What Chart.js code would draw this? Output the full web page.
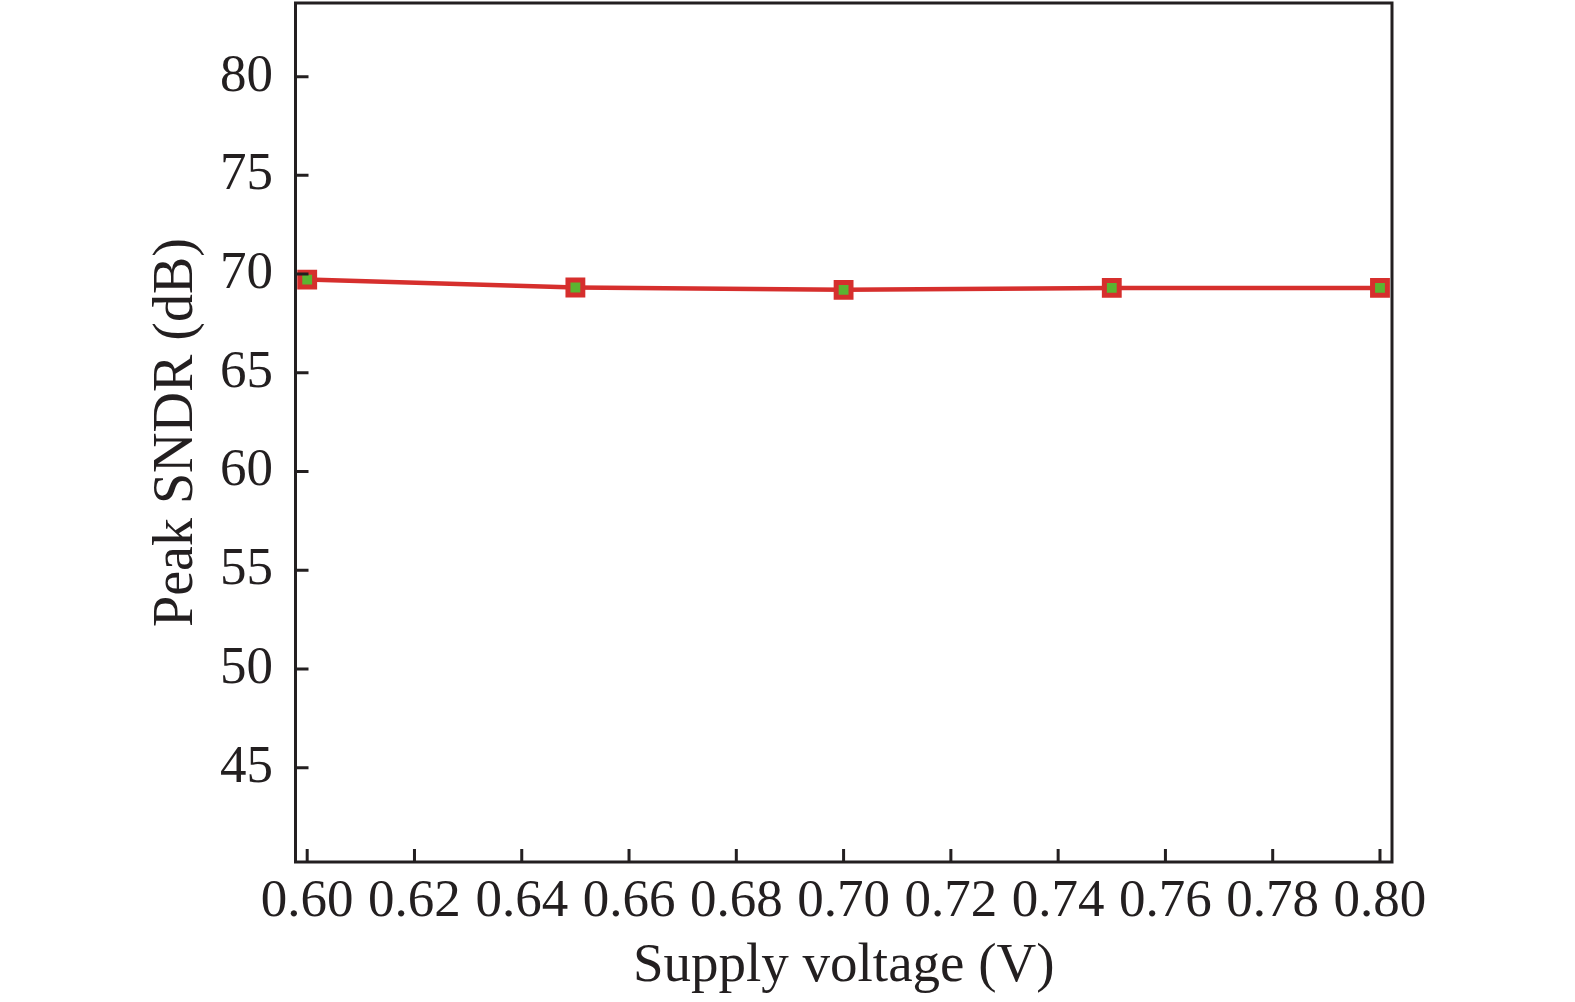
<!DOCTYPE html>
<html>
<head>
<meta charset="utf-8">
<script src="https://cdn.jsdelivr.net/npm/chart.js@4/dist/chart.umd.min.js"></script>
<style>
  html, body { margin: 0; padding: 0; background: #ffffff; }
  #wrap { width: 1575px; height: 1002px; }
</style>
</head>
<body>
<div id="wrap"><canvas id="c" width="1575" height="1002"></canvas></div>
<script>
const supplyVoltage = [0.60, 0.65, 0.70, 0.75, 0.80];
const peakSNDR = [69.72, 69.32, 69.20, 69.30, 69.30];
const xTickValues = [0.60, 0.62, 0.64, 0.66, 0.68, 0.70, 0.72, 0.74, 0.76, 0.78, 0.80];
const yTickValues = [45, 50, 55, 60, 65, 70, 75, 80];
const xTitle = 'Supply voltage (V)';
const yTitle = 'Peak SNDR (dB)';

const INK = '#231f20';
const FONT = '"Liberation Serif", "Times New Roman", serif';

const framePlugin = {
  id: 'frame',
  afterDatasetsDraw(chart) {
    const {ctx, chartArea: a, scales} = chart;
    ctx.save();
    ctx.strokeStyle = INK;
    ctx.lineWidth = 3;
    ctx.lineCap = 'butt';
    ctx.beginPath();
    ctx.rect(a.left, a.top, a.right - a.left, a.bottom - a.top);
    ctx.stroke();
    const len = 13;
    ctx.beginPath();
    xTickValues.forEach(v => {
      const px = scales.x.getPixelForValue(v);
      ctx.moveTo(px, a.bottom);
      ctx.lineTo(px, a.bottom - len);
    });
    yTickValues.forEach(v => {
      const py = scales.y.getPixelForValue(v);
      ctx.moveTo(a.left, py);
      ctx.lineTo(a.left + len, py);
    });
    ctx.stroke();
    ctx.restore();
  }
};

new Chart(document.getElementById('c'), {
  type: 'line',
  data: {
    datasets: [{
      data: supplyVoltage.map((v, i) => ({x: v, y: peakSNDR[i]})),
      borderColor: '#d62f2d',
      borderWidth: 4.5,
      backgroundColor: '#5bb531',
      pointStyle: 'rect',
      pointRadius: 10.5,
      pointBorderWidth: 5,
      pointBorderColor: '#d62f2d',
      pointBackgroundColor: '#5bb531',
      tension: 0,
      clip: false
    }]
  },
  options: {
    responsive: false,
    animation: false,
    devicePixelRatio: 1,
    layout: { autoPadding: false, padding: { left: 0, top: 3, right: 183, bottom: 0 } },
    plugins: { legend: { display: false }, tooltip: { enabled: false } },
    scales: {
      x: {
        type: 'linear',
        min: 0.59782,
        max: 0.80224,
        afterFit(s) { s.height = 140; s.paddingLeft = 0; s.paddingRight = 0; },
        afterBuildTicks(s) { s.ticks = xTickValues.map(v => ({value: v})); },
        grid: { display: false, drawTicks: false, tickLength: 0 },
        border: { display: false },
        ticks: {
          autoSkip: false,
          maxRotation: 0,
          padding: 8.5,
          color: INK,
          font: { family: FONT, size: 53, lineHeight: 1.2 },
          callback: v => Number(v).toFixed(2)
        },
        title: {
          display: true,
          text: xTitle,
          color: INK,
          font: { family: FONT, size: 55, lineHeight: 1 },
          padding: { top: 0, bottom: 7.5 }
        }
      },
      y: {
        type: 'linear',
        min: 40.22,
        max: 83.73,
        afterFit(s) { s.width = 295.5; s.paddingTop = 0; s.paddingBottom = 0; },
        afterBuildTicks(s) { s.ticks = yTickValues.map(v => ({value: v})); },
        grid: { display: false, drawTicks: false, tickLength: 0 },
        border: { display: false },
        ticks: {
          autoSkip: false,
          padding: 22.5,
          color: INK,
          font: { family: FONT, size: 53, lineHeight: 1.2 },
          callback: v => String(v)
        },
        title: {
          display: true,
          text: yTitle,
          color: INK,
          font: { family: FONT, size: 56, lineHeight: 1 },
          padding: { top: 149, bottom: 0 }
        }
      }
    }
  },
  plugins: [framePlugin]
});
</script>
</body>
</html>
